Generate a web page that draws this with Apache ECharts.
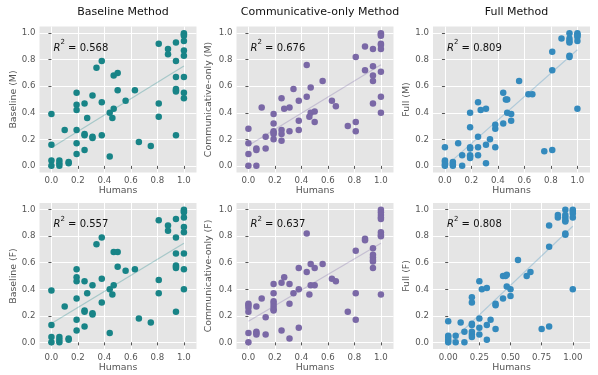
<!DOCTYPE html>
<html>
<head>
<meta charset="utf-8">
<script src="https://cdn.jsdelivr.net/npm/echarts@6/dist/echarts.min.js"></script>
<style>
  html, body { margin: 0; padding: 0; background: #fff; }
  #main { width: 598px; height: 375px; }
</style>
</head>
<body>
<div id="main"></div>
<script>
// column titles
var methods = ['Baseline Method', 'Communicative-only Method', 'Full Method'];
var yNames = ['Baseline (M)', 'Communicative-only (M)', 'Full (M)', 'Baseline (F)', 'Communicative-only (F)', 'Full (F)'];
var r2Values = ['0.568', '0.676', '0.809', '0.557', '0.637', '0.808'];

// tick labels
var ticksTenths = [0, 0.2, 0.4, 0.6, 0.8, 1.0];
var ticksQuarters = [0, 0.25, 0.5, 0.75, 1.0];

// [humans, model] pairs
var baselineM = [
  [0,0.39],[0,0.16],[0,0.04],[0,0],
  [0.06,0.04],[0.06,0.02],[0.06,0],
  [0.1,0.27],
  [0.13,0.03],[0.13,0.02],
  [0.19,0.55],[0.19,0.46],[0.19,0.42],[0.19,0.27],[0.19,0.17],[0.19,0.09],
  [0.25,0.47],[0.25,0.24],[0.25,0.23],[0.25,0.12],
  [0.27,0.36],
  [0.31,0.53],[0.31,0.22],[0.31,0.21],
  [0.34,0.74],
  [0.38,0.79],[0.38,0.48],[0.38,0.23],
  [0.44,0.40],[0.44,0.07],
  [0.46,0.36],
  [0.47,0.68],[0.47,0.43],
  [0.5,0.70],[0.5,0.57],
  [0.56,0.49],
  [0.63,0.57],
  [0.66,0.18],
  [0.75,0.15],
  [0.81,0.92],[0.81,0.47],[0.81,0.37],
  [0.88,0.88],[0.88,0.84],
  [0.94,0.93],[0.94,0.79],[0.94,0.67],[0.94,0.58],[0.94,0.57],[0.94,0.56],[0.94,0.23],
  [1,1.0],[1,0.99],[1,0.98],[1,0.94],[1,0.87],[1,0.83],[1,0.67],[1,0.55],[1,0.51]
];

var commM = [
  [0,0.28],[0,0.17],[0,0.09],[0,0],
  [0.06,0.13],[0.06,0.12],[0.06,0],
  [0.1,0.44],
  [0.13,0.22],[0.13,0.13],
  [0.19,0.39],[0.19,0.32],[0.19,0.26],[0.19,0.25],[0.19,0.24],[0.19,0.20],
  [0.25,0.51],[0.25,0.27],[0.25,0.24],[0.25,0.19],
  [0.27,0.43],
  [0.31,0.44],[0.31,0.26],
  [0.34,0.58],
  [0.38,0.49],[0.38,0.34],[0.38,0.27],
  [0.44,0.76],[0.44,0.52],
  [0.46,0.37],
  [0.47,0.59],[0.47,0.40],
  [0.5,0.41],[0.5,0.33],
  [0.56,0.64],
  [0.63,0.49],
  [0.66,0.45],
  [0.75,0.30],
  [0.81,0.82],[0.81,0.33],[0.81,0.26],
  [0.88,0.90],[0.88,0.72],
  [0.94,0.88],[0.94,0.75],[0.94,0.68],[0.94,0.64],[0.94,0.47],
  [1,1.0],[1,0.99],[1,0.98],[1,0.92],[1,0.91],[1,0.88],[1,0.71],[1,0.52],[1,0.40]
];

var fullM = [
  [0,0.14],[0,0.04],[0,0.03],[0,0.01],[0,0],
  [0.06,0.03],[0.06,0.01],[0.06,0],
  [0.1,0.17],
  [0.13,0.08],[0.13,0],
  [0.19,0.40],[0.19,0.29],[0.19,0.14],[0.19,0.13],[0.19,0.08],[0.19,0.07],[0.19,0.06],
  [0.25,0.48],[0.25,0.22],[0.25,0.14],[0.25,0.08],
  [0.27,0.42],
  [0.31,0.43],[0.31,0.16],[0.31,0.02],
  [0.34,0.20],
  [0.38,0.31],[0.38,0.28],[0.38,0.14],
  [0.44,0.55],[0.44,0.32],
  [0.46,0.50],
  [0.47,0.50],[0.47,0.40],
  [0.5,0.39],[0.5,0.34],
  [0.56,0.64],
  [0.63,0.54],
  [0.66,0.54],
  [0.75,0.11],
  [0.81,0.86],[0.81,0.72],[0.81,0.12],
  [0.88,0.96],
  [0.94,1.0],[0.94,0.96],[0.94,0.94],[0.94,0.93],[0.94,0.83],[0.94,0.82],
  [1,1.0],[1,0.99],[1,0.98],[1,0.97],[1,0.94],[1,0.43]
];

var baselineF = [
  [0,0.39],[0,0.13],[0,0.04],[0,0],
  [0.06,0.04],[0.06,0.02],[0.06,0],
  [0.1,0.27],
  [0.13,0.03],[0.13,0.02],
  [0.19,0.55],[0.19,0.49],[0.19,0.46],[0.19,0.33],[0.19,0.17],[0.19,0.09],
  [0.25,0.46],[0.25,0.24],[0.25,0.23],[0.25,0.12],
  [0.27,0.37],
  [0.31,0.43],[0.31,0.22],[0.31,0.21],
  [0.34,0.74],
  [0.38,0.79],[0.38,0.48],[0.38,0.30],
  [0.44,0.40],[0.44,0.07],
  [0.46,0.36],
  [0.47,0.68],[0.47,0.43],
  [0.5,0.68],[0.5,0.57],
  [0.56,0.54],
  [0.63,0.55],
  [0.66,0.18],
  [0.75,0.15],
  [0.81,0.92],[0.81,0.47],[0.81,0.37],
  [0.88,0.88],[0.88,0.84],
  [0.94,0.93],[0.94,0.79],[0.94,0.67],[0.94,0.58],[0.94,0.57],[0.94,0.56],[0.94,0.23],
  [1,1.0],[1,0.99],[1,0.98],[1,0.94],[1,0.87],[1,0.83],[1,0.67],[1,0.55],[1,0.40]
];

var commF = [
  [0,0.29],[0,0.28],[0,0.26],[0,0.23],[0,0.07],[0,0],
  [0.06,0.27],[0.06,0.08],[0.06,0.07],[0.06,0.06],
  [0.1,0.33],
  [0.13,0.19],[0.13,0.06],
  [0.19,0.44],[0.19,0.37],[0.19,0.31],[0.19,0.29],[0.19,0.27],[0.19,0.25],[0.19,0.24],
  [0.25,0.45],[0.25,0.09],
  [0.27,0.49],
  [0.31,0.44],[0.31,0.29],[0.31,0.03],
  [0.34,0.37],
  [0.38,0.56],[0.38,0.40],[0.38,0.11],
  [0.44,0.82],[0.44,0.53],
  [0.46,0.36],
  [0.47,0.59],[0.47,0.43],
  [0.5,0.56],[0.5,0.43],
  [0.56,0.59],
  [0.63,0.48],
  [0.66,0.46],
  [0.75,0.23],
  [0.81,0.69],[0.81,0.37],[0.81,0.17],
  [0.88,0.78],[0.88,0.77],
  [0.94,0.71],[0.94,0.66],[0.94,0.64],[0.94,0.62],[0.94,0.61],[0.94,0.56],
  [1,1.0],[1,0.98],[1,0.96],[1,0.94],[1,0.93],[1,0.83],[1,0.81],[1,0.80],[1,0.36]
];

var fullF = [
  [0,0.16],[0,0.05],[0,0.04],[0,0.02],[0,0],
  [0.06,0.05],[0.06,0],
  [0.1,0.15],
  [0.13,0.08],[0.13,0],
  [0.19,0.34],[0.19,0.30],[0.19,0.14],[0.19,0.13],[0.19,0.08],[0.19,0.06],[0.19,0.04],
  [0.25,0.46],[0.25,0.18],[0.25,0.11],[0.25,0.06],
  [0.27,0.40],
  [0.31,0.41],[0.31,0.13],[0.31,0.02],
  [0.34,0.17],
  [0.38,0.29],[0.38,0.28],[0.38,0.10],
  [0.44,0.50],[0.44,0.33],
  [0.46,0.50],
  [0.47,0.51],[0.47,0.42],
  [0.5,0.40],[0.5,0.35],
  [0.56,0.62],
  [0.63,0.50],
  [0.66,0.53],
  [0.75,0.10],
  [0.81,0.88],[0.81,0.72],[0.81,0.12],
  [0.88,0.96],[0.88,0.94],
  [0.94,1.0],[0.94,0.96],[0.94,0.94],[0.94,0.92],[0.94,0.91],[0.94,0.82],[0.94,0.81],
  [1,1.0],[1,0.99],[1,0.97],[1,0.94],[1,0.40]
];

var panelData = [baselineM, commM, fullM, baselineF, commF, fullF];
var colors = ['#188487', '#7A68A6', '#348ABD'];

// least squares line drawn over the humans range 0..1
function fitLine(pts) {
  var n = pts.length, sx = 0, sy = 0, sxx = 0, sxy = 0;
  pts.forEach(function (p) {
    sx += p[0]; sy += p[1]; sxx += p[0] * p[0]; sxy += p[0] * p[1];
  });
  var b = (n * sxy - sx * sy) / (n * sxx - sx * sx);
  var a = (sy - b * sx) / n;
  return [[0, a], [1, a + b]];
}

function hexAlpha(hex, a) {
  var r = parseInt(hex.slice(1, 3), 16), g = parseInt(hex.slice(3, 5), 16), b = parseInt(hex.slice(5, 7), 16);
  return 'rgba(' + r + ',' + g + ',' + b + ',' + a + ')';
}

var colLeft = [39.5, 236.5, 433];
var rowTop = [26.5, 203];
var gridW = 157, gridH = 146;

var grids = [], xAxes = [], yAxes = [], series = [], titles = [];

methods.forEach(function (m, c) {
  titles.push({
    text: m, left: colLeft[c] + gridW / 2, top: 2, textAlign: 'center',
    textStyle: { fontFamily: 'DejaVu Sans', fontSize: 11, fontWeight: 'normal', color: '#111' }
  });
});

for (var i = 0; i < 6; i++) {
  var r = Math.floor(i / 3), c = i % 3;
  var quarter = (i === 5);
  grids.push({
    left: colLeft[c], top: rowTop[r], width: gridW, height: gridH,
    show: true, backgroundColor: '#E5E5E5', borderWidth: 0
  });
  var xt = quarter ? ticksQuarters : ticksTenths;
  xAxes.push({
    type: 'value', gridIndex: i,
    min: quarter ? -0.122 : -0.09, max: quarter ? 1.138 : 1.095,
    name: 'Humans', nameLocation: 'middle', nameGap: 11,
    nameTextStyle: { fontFamily: 'DejaVu Sans', fontSize: 9.4, color: '#555' },
    axisLine: { show: false },
    axisTick: { show: true, length: 3, lineStyle: { color: '#555' }, customValues: xt },
    axisLabel: {
      customValues: xt, fontFamily: 'DejaVu Sans', fontSize: 8.6, color: '#555', margin: 4,
      formatter: (function (q) { return function (v) { return v.toFixed(q ? 2 : 1); }; })(quarter)
    },
    splitLine: { show: true, lineStyle: { color: '#fff', width: 1 } }
  });
  yAxes.push({
    type: 'value', gridIndex: i, min: -0.05, max: 1.05,
    name: yNames[i], nameLocation: 'middle', nameGap: c === 1 ? 23 : 21,
    nameTextStyle: { fontFamily: 'DejaVu Sans', fontSize: 9.4, color: '#555' },
    axisLine: { show: false },
    axisTick: { show: true, length: 3, lineStyle: { color: '#555' }, customValues: ticksTenths },
    axisLabel: {
      customValues: ticksTenths, fontFamily: 'DejaVu Sans', fontSize: 8.6, color: '#555', margin: 4,
      formatter: function (v) { return v.toFixed(1); }
    },
    splitLine: { show: true, lineStyle: { color: '#fff', width: 1 } }
  });
  series.push({
    type: 'line', xAxisIndex: i, yAxisIndex: i,
    data: fitLine(panelData[i]), symbol: 'none', silent: true, z: 1,
    lineStyle: { color: hexAlpha(colors[c], 0.3), width: 1.2 }
  });
  series.push({
    type: 'scatter', xAxisIndex: i, yAxisIndex: i, z: 2,
    data: panelData[i], symbolSize: 6.5,
    itemStyle: { color: colors[c], opacity: 1 }
  });
  titles.push({
    text: '{i|R}{s|2}{t| = ' + r2Values[i] + '}',
    left: colLeft[c] + 9, top: rowTop[r] + 7.5,
    textStyle: {
      fontWeight: 'normal',
      rich: {
        i: { fontFamily: 'DejaVu Sans', fontStyle: 'italic', fontWeight: 'normal', fontSize: 10, color: '#111', lineHeight: 14, verticalAlign: 'bottom' },
        s: { fontFamily: 'DejaVu Sans', fontWeight: 'normal', fontSize: 7, color: '#111', lineHeight: 14, verticalAlign: 'top' },
        t: { fontFamily: 'DejaVu Sans', fontWeight: 'normal', fontSize: 10, color: '#111', lineHeight: 14, verticalAlign: 'bottom' }
      }
    }
  });
}

var chart = echarts.init(document.getElementById('main'));
var option = {
  backgroundColor: '#fff',
  animation: false,
  title: titles,
  grid: grids,
  xAxis: xAxes,
  yAxis: yAxes,
  series: series
};
chart.setOption(option);
</script>
</body>
</html>
